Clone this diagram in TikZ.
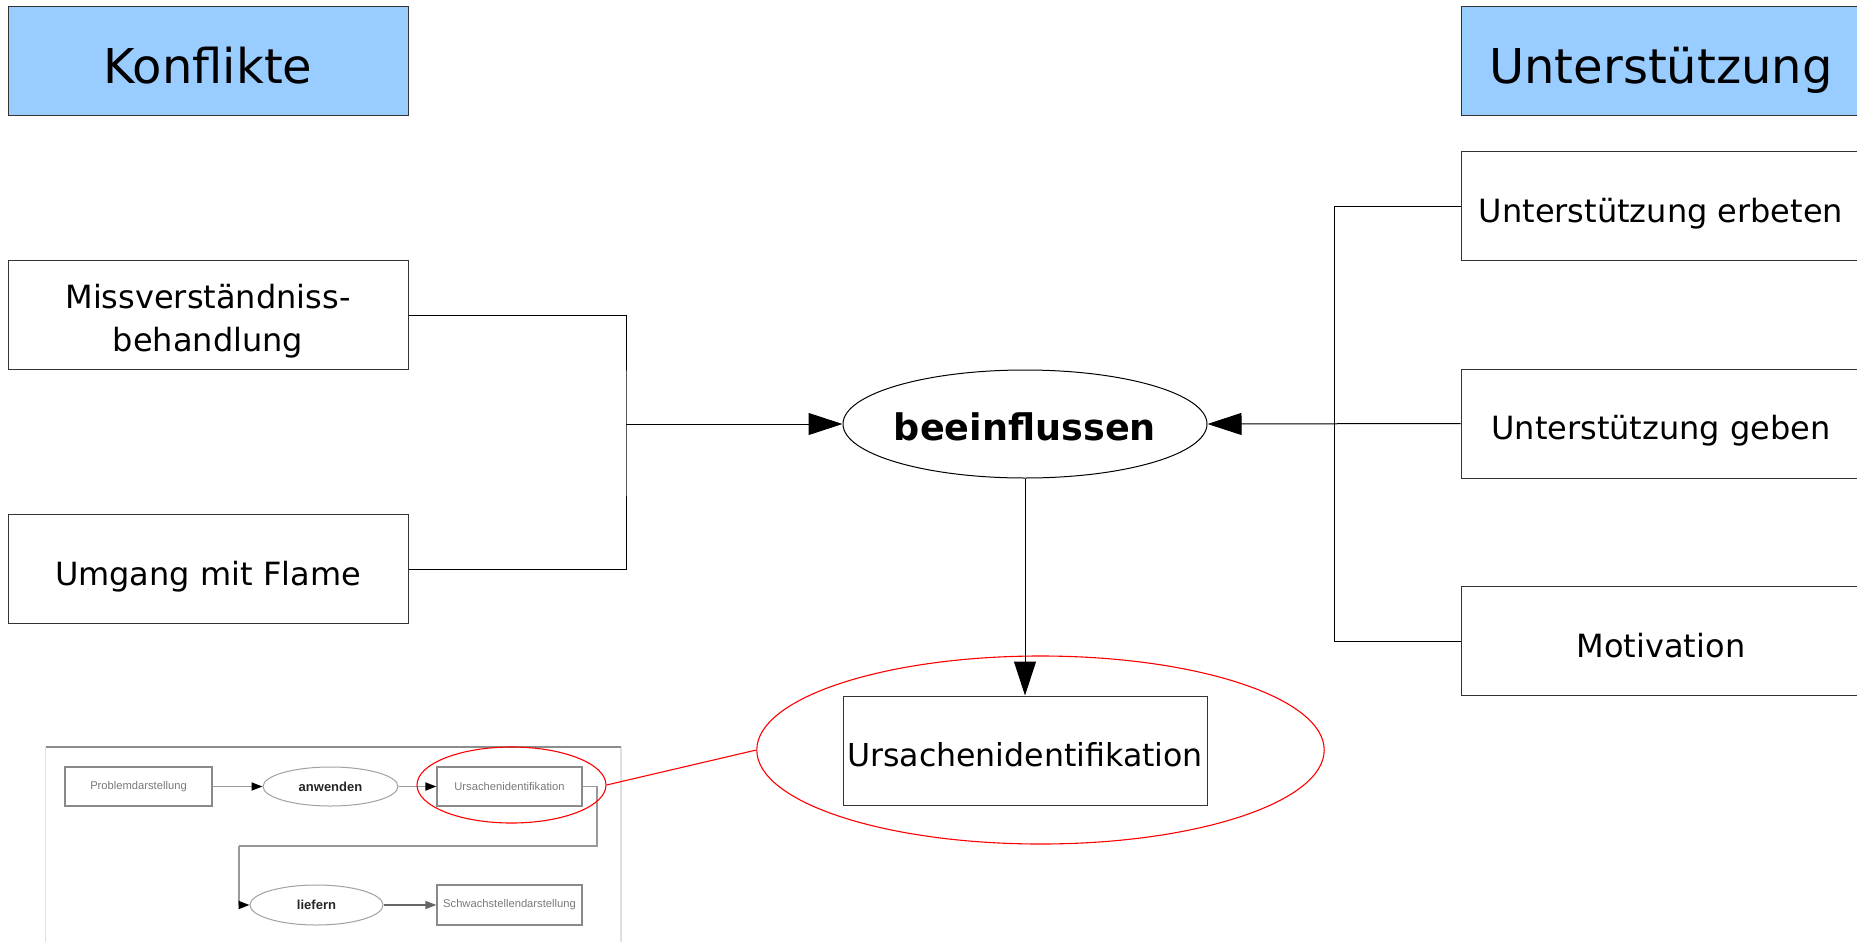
\documentclass[tikz,border=0pt]{standalone}
\usepackage{fontspec}
\setmainfont{DejaVu Sans}
\newfontfamily\minifont{Liberation Sans}
\usetikzlibrary{shapes.geometric,arrows.meta}
\definecolor{hdrblue}{HTML}{99CCFF}
\definecolor{boxline}{HTML}{333333}
\definecolor{minigray}{HTML}{8A8A8A}
\definecolor{minitext}{HTML}{7A7A7A}
\tikzset{
  base/.style={draw=boxline, line width=0.5pt, inner sep=0pt, align=center},
  hdrbox/.style={base, fill=hdrblue, minimum width=200pt, minimum height=54.5pt, font=\fontsize{24}{28}\selectfont, text height=22.8pt, text depth=0pt},
  itembox/.style={base, fill=white, minimum width=200pt, minimum height=54.5pt, font=\fontsize{16}{21.3}\selectfont},
  onetext/.style={text height=16pt, text depth=0pt},
  conn/.style={draw=black, line width=0.5pt},
  arr/.style={conn, -{Triangle[length=17pt,width=11pt]}},
  hl/.style={draw=red, line width=0.55pt, ellipse, inner sep=0pt},
  minibox/.style={draw=minigray, line width=0.6pt, inner sep=0pt, minimum width=72.5pt, minimum height=19.5pt, font=\minifont\fontsize{5.6}{6.5}\selectfont, text=minitext},
  miniell/.style={draw=minigray!80, line width=0.5pt, ellipse, inner sep=0pt, minimum width=67pt, minimum height=19.5pt, font=\minifont\bfseries\fontsize{6.5}{7.5}\selectfont, text=black!85},
  miniconn/.style={draw=black!40, line width=0.9pt},
  miniarr/.style={miniconn, -{Triangle[length=5.5pt,width=4pt,color=black]}}
}
\begin{document}
\begin{tikzpicture}[x=0.5pt,y=-0.5pt]
\useasboundingbox (0,0) rectangle (1857,942);
\clip (0,0) rectangle (1857,942);
\fill[white] (0,0) rectangle (1857,942);

% headers
\node[hdrbox] (konf) at (208,60.5) {Konflikte};
\node[hdrbox] (unt) at (1661,60.5) {Unterstützung};

% left items
\node[itembox] (miss) at (208,315) {\raisebox{-3.3pt}[\height][\depth]{\begin{tabular}{@{}c@{}}Missverständniss-\\behandlung\end{tabular}}};
\node[itembox, onetext] (umg) at (208,569) {Umgang mit Flame};

% right items
\node[itembox, onetext] (erb) at (1661,206) {Unterstützung erbeten};
\node[itembox, onetext] (geb) at (1661,423.5) {Unterstützung geben};
\node[itembox, onetext] (mot) at (1661,641) {Motivation};

% central
\node[draw=black, line width=0.5pt, ellipse, inner sep=0pt, minimum width=182pt, minimum height=54pt,
      label={[font=\bfseries\fontsize{18.3}{22}\selectfont, text height=16.7pt, text depth=0pt, inner sep=0pt]center:beeinflussen}] (bee) at (1025,424) {};
\node[hl, minimum width=283.7pt, minimum height=94pt] (redbig) at (1040.5,750) {};
\node[base, onetext, minimum width=182pt, minimum height=54.5pt, font=\fontsize{15.8}{19}\selectfont] (ursa) at (1025,750.5) {Ursachenidentifikation};

% connectors
\coordinate (lbus) at (626,424);
\coordinate (rbus) at (1334.5,424);
\draw[conn] (miss.east) -| (lbus) |- (umg.east);
\draw[arr] (lbus) -- (bee.west);
\draw[conn] (erb.west) -| (rbus) |- (mot.west);
\draw[arr] (geb.west) -- (bee.east);
\draw[arr] (bee.south) -- (ursa.north);

% mini screenshot frame
\draw[draw=black!12, line width=0.6pt] (45.7,942) -- (45.7,747);
\draw[draw=black!12, line width=0.6pt] (621,747) -- (621,942);
\draw[draw=black!45, line width=0.7pt] (45.7,747) -- (621,747);

% mini diagram
\node[minibox, minimum width=73.5pt] (prob) at (138.5,786.5) {Problemdarstellung};
\node[miniell, minimum width=67.5pt] (anw) at (330.5,786.5) {anwenden};
\node[minibox] (ursm) at (509.5,786.5) {Ursachenidentifikation};
\node[miniell, minimum width=66.5pt, minimum height=20pt] (lief) at (316.5,905) {liefern};
\node[minibox, minimum height=20pt] (schw) at (509.5,905) {Schwachstellendarstellung};
\coordinate (mr) at (596.7,846);
\coordinate (ml) at (239,846);
\draw[miniarr] (prob.east) -- (anw.west);
\draw[miniarr] (anw.east) -- (ursm.west);
\draw[miniconn] (ursm.east) -| (mr) -- (ml);
\draw[miniarr] (ml) |- (lief.west);
\draw[draw=black!60, line width=0.6pt, -{Triangle[length=5.5pt,width=4pt]}] (lief.east) -- (schw.west);

% red highlight
\node[hl, minimum width=94.5pt, minimum height=38pt] (redsmall) at (511.5,785) {};
\draw[draw=red, line width=0.55pt] (redsmall.east) -- (redbig.west);
\end{tikzpicture}
\end{document}
